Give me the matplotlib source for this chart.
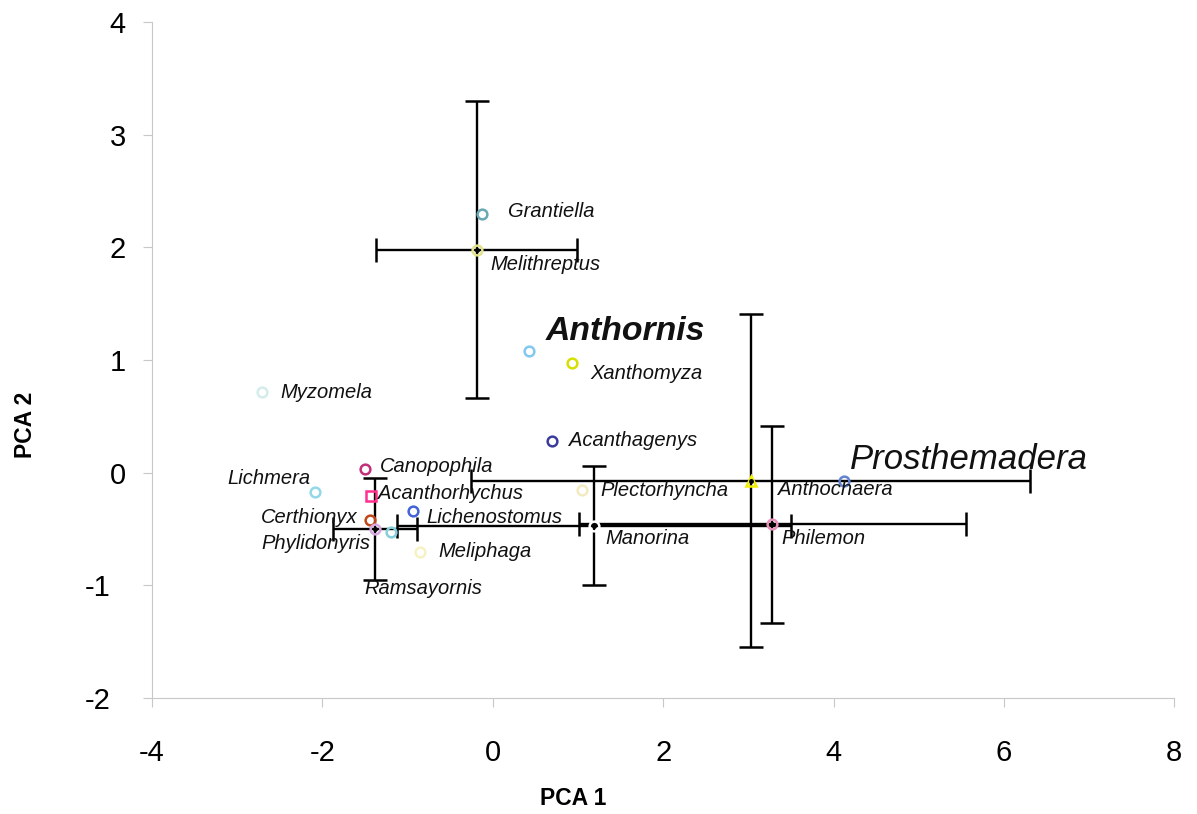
import matplotlib.pyplot as plt
import matplotlib.transforms as mtransforms
import numpy as np

# Scores por género nos dois primeiros eixos da PCA
generos = ['Grantiella', 'Melithreptus', 'Anthornis', 'Xanthomyza', 'Myzomela',
           'Acanthagenys', 'Canopophila', 'Lichmera', 'Acanthorhychus', 'Certhionyx',
           'Phylidonyris', 'Ramsayornis', 'Lichenostomus', 'Meliphaga', 'Plectorhyncha',
           'Anthochaera', 'Manorina', 'Philemon', 'Prosthemadera']
pca1 = [-0.13, -0.19, 0.42, 0.93, -2.71,
        0.69, -1.50, -2.09, -1.43, -1.44,
        -1.38, -1.19, -0.94, -0.85, 1.05,
        3.03, 1.19, 3.28, 4.12]
pca2 = [2.30, 1.98, 1.08, 0.97, 0.72,
        0.28, 0.03, -0.17, -0.21, -0.42,
        -0.50, -0.53, -0.34, -0.70, -0.15,
        -0.07, -0.47, -0.46, -0.07]
cores = ['#6aa8b2', '#e2e28a', '#82c8f0', '#d6e000', '#d4ecea',
         '#3c3c9c', '#c2307a', '#92d8e8', '#ff3090', '#c04818',
         '#d6a8e0', '#84d0da', '#4262d8', '#f6f2c4', '#f2eac0',
         '#f0f000', '#ffffff', '#e890b8', '#6282d2']
marcadores = ['o'] * len(generos)
marcadores[generos.index('Acanthorhychus')] = 's'
marcadores[generos.index('Anthochaera')] = '^'

# Desvios (só para os géneros com várias espécies)
com_erro = ['Melithreptus', 'Phylidonyris', 'Manorina', 'Anthochaera', 'Philemon']
erro_x = [1.18, 0.49, 2.31, 3.28, 2.27]
erro_y = [1.32, 0.45, 0.53, 1.48, 0.875]

# posição dos nomes em relação ao ponto (pixels) e alinhamento
offsets = {
    'Grantiella': (26, 2, 'left'), 'Melithreptus': (14, -15, 'left'),
    'Anthornis': (17, 19, 'left'), 'Xanthomyza': (18, -10, 'left'),
    'Myzomela': (18, -1, 'left'), 'Acanthagenys': (17, 1, 'left'),
    'Canopophila': (15, 3, 'left'), 'Lichmera': (-4, 13, 'right'),
    'Acanthorhychus': (7, 3, 'left'), 'Certhionyx': (-13, 2, 'right'),
    'Phylidonyris': (-5, -15, 'right'), 'Ramsayornis': (-27, -56, 'left'),
    'Lichenostomus': (14, -7, 'left'), 'Meliphaga': (18, 0, 'left'),
    'Plectorhyncha': (18, -1, 'left'), 'Anthochaera': (27, -9, 'left'),
    'Manorina': (11, -13, 'left'), 'Philemon': (9, -14, 'left'),
    'Prosthemadera': (6, 21, 'left'),
}

plt.rcParams['font.family'] = 'Liberation Sans'
plt.rcParams['axes.unicode_minus'] = False

fig = plt.figure(figsize=(11.97, 8.14), dpi=100)
ax = fig.add_axes([0.127, 0.1425, 0.854, 0.8305])

# barras de erro primeiro, por baixo dos pontos
for g, ex, ey in zip(com_erro, erro_x, erro_y):
    i = generos.index(g)
    ax.errorbar(pca1[i], pca2[i], xerr=ex, yerr=ey, fmt='none', ecolor='black',
                elinewidth=1.7, capsize=8.5, capthick=1.8, zorder=2)

for i, g in enumerate(generos):
    ax.plot(pca1[i], pca2[i], linestyle='none', marker=marcadores[i], markersize=7,
            markerfacecolor='none', markeredgecolor=cores[i], markeredgewidth=1.8, zorder=3)
    if g in com_erro:
        ax.plot(pca1[i], pca2[i], 'o', color='black', markersize=2.5, zorder=4)

    dx, dy, ha = offsets[g]
    if g == 'Anthornis':
        kw = dict(fontsize=24.3, fontweight='bold')
    elif g == 'Prosthemadera':
        kw = dict(fontsize=25)
    else:
        kw = dict(fontsize=14.5)
    ax.annotate(g, (pca1[i], pca2[i]), xytext=(dx, dy), textcoords='offset pixels',
                ha=ha, va='center', style='italic', color='#111111', zorder=5, **kw)

ax.set_xlim(-4, 8)
ax.set_ylim(-2, 4)
ax.set_xticks(np.arange(-4, 9, 2))
ax.set_yticks(np.arange(-2, 5, 1))

for lado in ['top', 'right']:
    ax.spines[lado].set_visible(False)
for lado in ['left', 'bottom']:
    ax.spines[lado].set_color('#c8c8c8')
    ax.spines[lado].set_linewidth(0.8)
ax.tick_params(direction='out', length=6.5, width=0.8, color='#c8c8c8', labelsize=21)
ax.tick_params(axis='y', pad=12.5)
ax.tick_params(axis='x', pad=23)

# rótulos negativos do eixo y ficam um pouco mais à esquerda
desvio = mtransforms.ScaledTranslation(-0.15, 0, fig.dpi_scale_trans)
for tick, v in zip(ax.yaxis.get_major_ticks(), ax.get_yticks()):
    if v < 0:
        tick.label1.set_transform(tick.label1.get_transform() + desvio)

ax.set_xlabel('PCA 1', fontsize=16.5, fontweight='bold')
ax.set_ylabel('PCA 2', fontsize=16.5, fontweight='bold')
ax.xaxis.set_label_coords(0.412, -0.132)
ax.yaxis.set_label_coords(-0.113, 0.404)

fig.savefig('out.png', dpi=100)
